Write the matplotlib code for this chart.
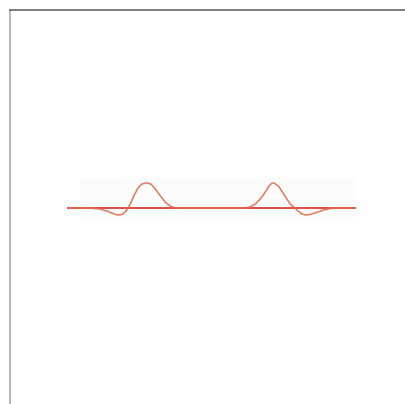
import matplotlib.pyplot as plt
import numpy as np

# signal: x position (pixels), amplitude (peak = 1)
x_pts = [70, 90, 100, 108, 114, 118, 122, 126, 128, 131, 134, 138, 142, 146, 148,
         151, 155, 160, 165, 170, 175, 180, 245, 250, 255, 260, 265, 269, 272,
         275, 279, 283, 287, 291, 295, 298, 302, 306, 311, 317, 323, 330, 336, 353]
y_pts = [0, 0, -0.04, -0.14, -0.24, -0.28, -0.26, -0.12, 0, 0.22, 0.5, 0.8, 0.96, 1.0, 1.0,
         0.95, 0.78, 0.5, 0.25, 0.08, 0.01, 0, 0, 0.04, 0.15, 0.35, 0.62, 0.88, 1.0,
         0.98, 0.85, 0.6, 0.35, 0.12, 0, -0.12, -0.24, -0.28, -0.25, -0.17, -0.09, -0.02, 0, 0]
base_x = [68, 355]
base_y = [0, 0]

fig = plt.figure(figsize=(4.05, 4.04), dpi=100)
ax = fig.add_axes([10 / 405, 0, 395 / 405, 394 / 404])

ax.axhspan(-0.45, 1.2, xmin=(80 - 10) / 395, xmax=(355 - 10) / 395, color='#fcfcfc', zorder=0)
ax.plot(base_x, base_y, color='#d8302a', lw=1.2)
ax.plot(x_pts, y_pts, color='#e06a4a', lw=1.2, alpha=0.85)

ax.set_xlim(10, 405)
ax.set_ylim(-7.84, 7.92)
ax.set_xticks([])
ax.set_yticks([])
for s in ['right', 'bottom']:
    ax.spines[s].set_visible(False)
ax.spines['top'].set_color('#666666')
ax.spines['top'].set_linewidth(1.2)
ax.spines['left'].set_color('#aaaaaa')
ax.spines['left'].set_linewidth(1.2)

fig.savefig('out.png', dpi=100)
